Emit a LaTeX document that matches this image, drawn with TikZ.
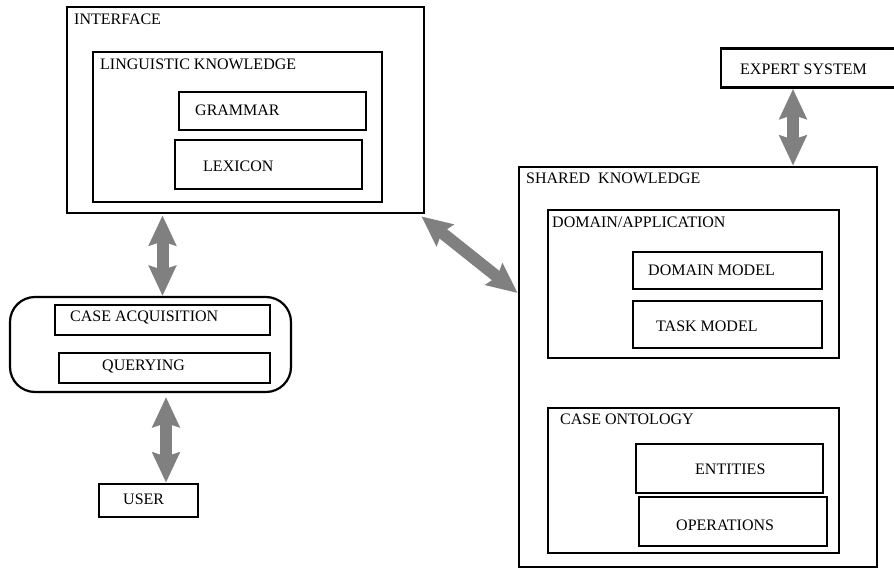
\documentclass[tikz,border=0pt]{standalone}
\usepackage{fontspec}
\setmainfont{Liberation Serif}
\usetikzlibrary{arrows.meta}

\begin{document}
\begin{tikzpicture}[x=1pt,y=-1pt]
\tikzstyle{box}=[draw,line width=2.8pt,inner sep=0pt]
\tikzstyle{txt}=[anchor=west,inner sep=0pt,font=\fontsize{16}{19}\selectfont]
\tikzstyle{dbl}=[draw=gray,line width=12pt,{Stealth[length=30pt,width=27pt,inset=4pt]}-{Stealth[length=30pt,width=27pt,inset=4pt]},color=gray]
\clip (0,0) rectangle (894,569);
\useasboundingbox (0,0) rectangle (894,569);

% interface side
\path (245.5,110) node[box,minimum width=357pt,minimum height=206pt](iface){};
\path (237.5,127) node[box,minimum width=289pt,minimum height=150pt](ling){};
\path (272.5,111) node[box,minimum width=187pt,minimum height=38pt](gram){};
\path (268.5,164.5) node[box,minimum width=187pt,minimum height=49pt](lex){};
\path (74,19) node[txt](ifacetxt){INTERFACE};
\path (100,64) node[txt](lingtxt){LINGUISTIC KNOWLEDGE};
\path (195,110) node[txt](gramtxt){GRAMMAR};
\path (203,166) node[txt](lextxt){LEXICON};

\path (150.5,344.5) node[draw,line width=2.2pt,rounded corners=25pt,minimum width=281pt,minimum height=95pt](acq){};
\path (162.5,320) node[box,minimum width=215pt,minimum height=30pt](caseacq){};
\path (164.5,368) node[box,minimum width=211pt,minimum height=30pt](query){};
\path (148.5,500.5) node[box,minimum width=99pt,minimum height=33pt](user){};
\path (70,318) node[txt](caseacqtxt){CASE ACQUISITION};
\path (102,366) node[txt](querytxt){QUERYING};
\path (123,499) node[txt](usertxt){USER};

% shared knowledge side
\path (808,68) node[box,minimum width=174pt,minimum height=39pt](expert){};
\path (740,69) node[txt](experttxt){EXPERT SYSTEM};
\path (698,367) node[box,minimum width=358pt,minimum height=400pt](shared){};
\path (693.5,284) node[box,minimum width=291pt,minimum height=148pt](domapp){};
\path (727.5,270.5) node[box,minimum width=189pt,minimum height=37pt](dommod){};
\path (727.5,324.5) node[box,minimum width=189pt,minimum height=47pt](task){};
\path (693.5,480.5) node[box,minimum width=291pt,minimum height=145pt](onto){};
\path (729.5,468.5) node[box,minimum width=187pt,minimum height=49pt](ent){};
\path (733,521.5) node[box,minimum width=188pt,minimum height=49pt](ops){};
\path (526,178) node[txt](sharedtxt){SHARED\ \ KNOWLEDGE};
\path (552,222) node[txt](domapptxt){DOMAIN/APPLICATION};
\path (648,270) node[txt](dommodtxt){DOMAIN MODEL};
\path (656,326) node[txt](tasktxt){TASK MODEL};
\path (560,419) node[txt](ontotxt){CASE ONTOLOGY};
\path (695,469) node[txt](enttxt){ENTITIES};
\path (676,525) node[txt](opstxt){OPERATIONS};

% arrows
\draw[dbl] ([yshift=-1pt]caseacq.center |- iface.south) -- (caseacq.center |- acq.north);
\draw[dbl] ([shift={(1.5pt,-4pt)}]query.center |- acq.south) -- ([xshift=1.5pt]query.center |- user.north);
\draw[dbl] ([xshift=-15pt]expert.south) -- ([xshift=-15pt]expert.south |- shared.north);
\draw[dbl] ([shift={(-4pt,-2pt)}]iface.south east) -- ([yshift=74pt]shared.west);
\end{tikzpicture}
\end{document}
